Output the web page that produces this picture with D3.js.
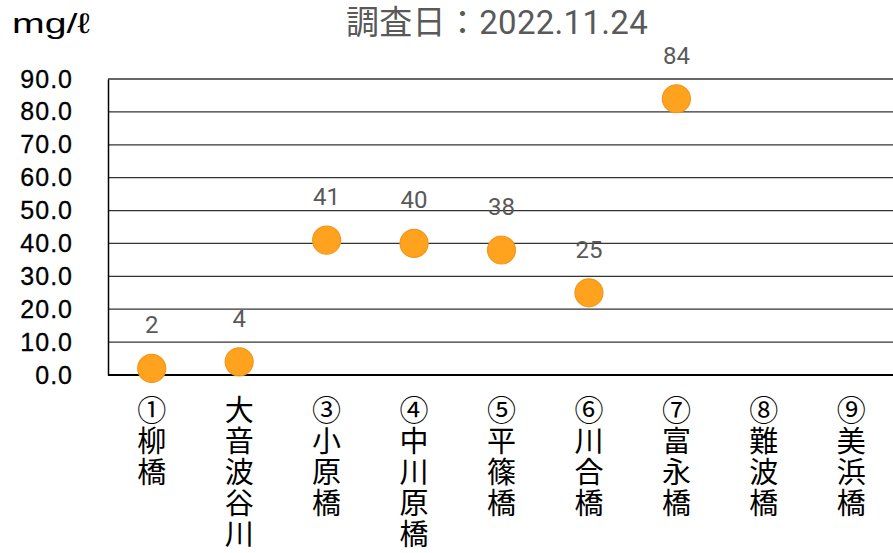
<!DOCTYPE html>
<html>
<head>
<meta charset="utf-8">
<script src="https://cdn.jsdelivr.net/npm/d3@7"></script>
<style>
  body { margin: 0; background: #fff; }
  svg { display: block; }
</style>
</head>
<body>
<div id="chart"></div>
<script>
// data
var categories = ["①柳橋", "大音波谷川", "③小原橋", "④中川原橋", "⑤平篠橋", "⑥川合橋", "⑦富永橋", "⑧難波橋", "⑨美浜橋"];
var values = [2, 4, 41, 40, 38, 25, 84, null, null];
var yTicks = [0, 10, 20, 30, 40, 50, 60, 70, 80, 90];
var title = "調査日：2022.11.24";
var unit = "mg/ℓ";

var width = 893, height = 553;
var margin = {top: 79, right: -2, bottom: 178, left: 108};
var innerW = width - margin.left - margin.right,
    innerH = height - margin.top - margin.bottom;

var svg = d3.select("#chart")
  .append("svg")
    .attr("width", width)
    .attr("height", height);

var g = svg.append("g")
    .attr("transform", "translate(" + margin.left + "," + margin.top + ")");

var x = d3.scaleBand()
  .domain(categories)
  .range([0, innerW]);

var y = d3.scaleLinear()
  .domain([0, 90])
  .range([innerH, 0]);

// horizontal grid lines
g.append("g")
  .selectAll("line")
  .data(yTicks)
  .enter()
  .append("line")
    .attr("x1", 0)
    .attr("x2", innerW)
    .attr("y1", function(d) { return y(d); })
    .attr("y2", function(d) { return y(d); })
    .attr("stroke", function(d) { return d === 0 ? "#000" : "#333"; })
    .attr("stroke-width", function(d) { return d === 0 ? 2 : 1.3; });

// Y axis
var yAxis = g.append("g")
  .call(d3.axisLeft(y).tickValues(yTicks).tickSize(0).tickPadding(35).tickFormat(d3.format(".1f")));
yAxis.select(".domain").attr("stroke", "#000").attr("stroke-width", 1.5);
yAxis.selectAll("text")
  .attr("font-family", "'Liberation Sans', Arial, sans-serif")
  .attr("font-size", 25)
  .attr("letter-spacing", 1)
  .attr("stroke", "#000")
  .attr("stroke-width", 0.3)
  .attr("fill", "#000");

// category labels, written top to bottom
var labels = g.append("g")
  .selectAll("text")
  .data(categories)
  .enter()
  .append("text")
    .attr("text-anchor", "middle")
    .attr("font-family", "'Noto Sans CJK JP', sans-serif")
    .attr("font-size", 29)
    .attr("fill", "#000");

labels.each(function(d) {
  var t = d3.select(this);
  Array.from(d).forEach(function(ch, i) {
    t.append("tspan")
      .attr("x", x(d) + x.bandwidth() / 2)
      .attr("y", innerH + 46 + i * 31)
      .text(ch);
  });
});

// points
var pts = categories.map(function(c, i) { return {c: c, v: values[i]}; })
  .filter(function(d) { return d.v !== null; });

g.append("g")
  .selectAll("circle")
  .data(pts)
  .enter()
  .append("circle")
    .attr("cx", function(d) { return x(d.c) + x.bandwidth() / 2; })
    .attr("cy", function(d) { return y(d.v); })
    .attr("r", 14)
    .attr("fill", "#FFA21E")
    .attr("stroke", "#F5961A")
    .attr("stroke-width", 1.2);

// data labels
g.append("g")
  .selectAll("text")
  .data(pts)
  .enter()
  .append("text")
    .attr("x", function(d) { return x(d.c) + x.bandwidth() / 2; })
    .attr("y", function(d) { return y(d.v) - 35; })
    .attr("text-anchor", "middle")
    .attr("font-family", "Roboto, 'Liberation Sans', sans-serif")
    .attr("font-size", 24)
    .attr("fill", "#595959")
    .text(function(d) { return d.v; });

// title
svg.append("text")
  .attr("x", 497)
  .attr("y", 34)
  .attr("text-anchor", "middle")
  .attr("font-family", "Roboto, 'Noto Sans CJK JP', sans-serif")
  .attr("font-size", 33)
  .attr("letter-spacing", 0.3)
  .attr("fill", "#595959")
  .text(title);

// unit label
svg.append("text")
  .attr("x", 12)
  .attr("y", 33)
  .attr("font-family", "'Liberation Sans', 'Noto Sans CJK JP', sans-serif")
  .attr("font-size", 28)
  .attr("textLength", 78)
  .attr("lengthAdjust", "spacingAndGlyphs")
  .attr("fill", "#000")
  .text(unit);
</script>
</body>
</html>
